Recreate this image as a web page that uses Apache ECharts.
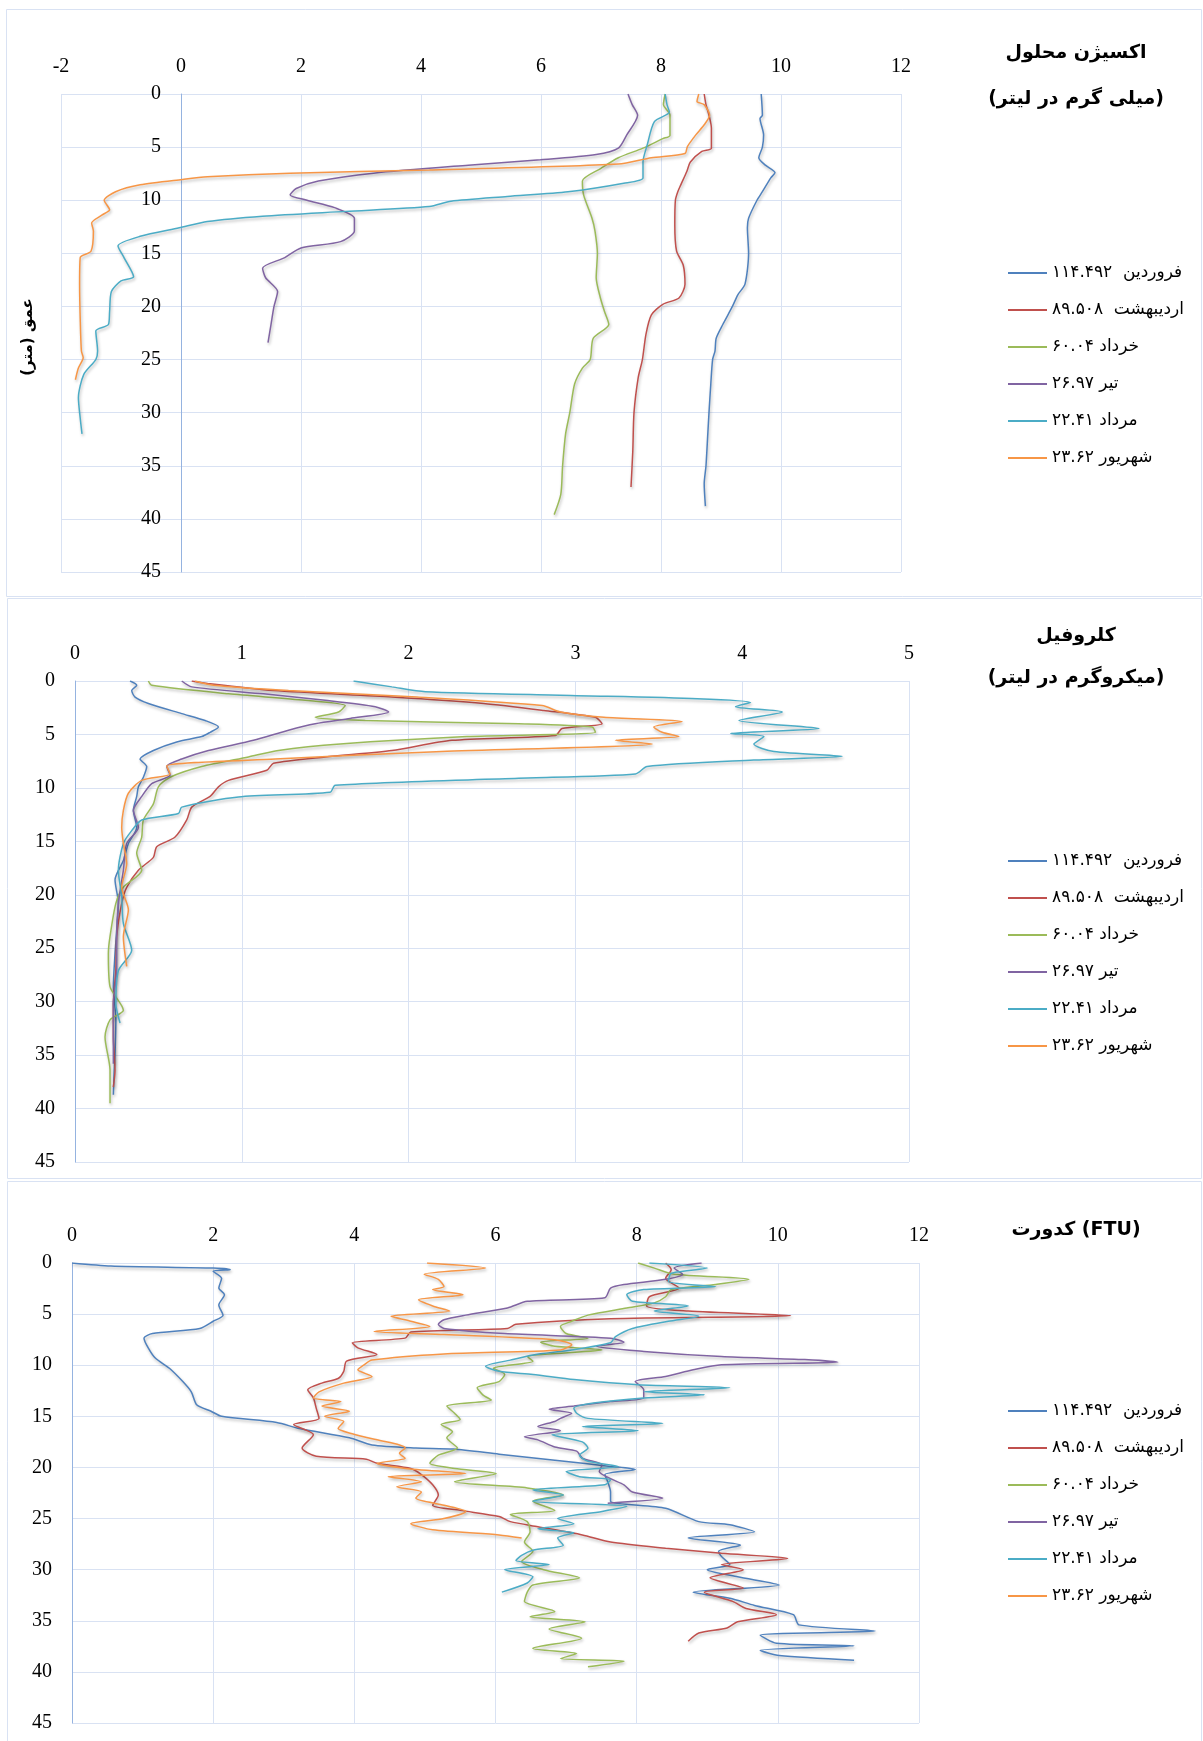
<!DOCTYPE html>
<html><head><meta charset="utf-8">
<script src="https://cdn.jsdelivr.net/npm/echarts@6/dist/echarts.min.js"></script>
<style>html,body{margin:0;padding:0;background:#fff}#c{width:1203px;height:1741px}</style>
</head><body><div id="c"></div><script>
// ---------- names, colours, ticks ----------
const seriesNames = ['فروردین  ۱۱۴.۴۹۲','اردیبهشت  ۸۹.۵۰۸','خرداد ۶۰.۰۴','تیر ۲۶.۹۷','مرداد ۲۲.۴۱','شهریور ۲۳.۶۲'];
const colors = ['#4F81BD','#C0504D','#9BBB59','#8064A2','#4BACC6','#F79646'];
const doTicks = [-2,0,2,4,6,8,10,12];
const chlTicks = [0,1,2,3,4,5];
const turTicks = [0,2,4,6,8,10,12];
const depthTicks = [0,5,10,15,20,25,30,35,40,45];
const titles = [['اکسیژن محلول','(میلی گرم در لیتر)'],['کلروفیل','(میکروگرم در لیتر)'],['کدورت (FTU)']];
const depthTitle = 'عمق (متر)';

// ---------- Dissolved oxygen ----------
const do1Depth = [0,2,2.3,3.85,5,6,6.7,7.4,7.9,9.2,10,11.7,12.6,15,17.9,18.9,20,21.7,23,24.2,25,27.3,30,32,35,36.7,38.8];
const do1Val   = [9.67,9.69,9.65,9.71,9.69,9.63,9.74,9.9,9.83,9.69,9.6,9.46,9.44,9.46,9.4,9.28,9.19,9.03,8.92,8.9,8.86,8.83,8.8,8.78,8.75,8.72,8.74];
const do2Depth = [0,1,2,3.2,5.1,5.4,6.4,7.3,8.55,9.2,10,12.3,14.8,16.1,17.9,19.2,19.8,20.8,22.6,25,26.7,30,33.6,37];
const do2Val   = [8.72,8.75,8.8,8.84,8.84,8.68,8.49,8.43,8.33,8.28,8.24,8.23,8.26,8.37,8.4,8.3,8.03,7.84,7.75,7.69,7.62,7.55,7.53,7.5];
const do3Depth = [0,1,2,3.9,4.2,5.1,6,7,8.2,9.5,11.7,12.9,15,17.3,19.2,20.5,21.7,23,25,25.8,27.3,30,32,35,37.7,39.6];
const do3Val   = [8.07,8.04,8.15,8.15,8.03,7.7,7.29,7.0,6.69,6.71,6.85,6.9,6.94,6.92,6.99,7.06,7.13,6.87,6.82,6.69,6.56,6.48,6.41,6.36,6.33,6.22];
const do4Depth = [0,1,2,3.85,5.1,5.7,6.2,6.7,7.45,8.2,8.9,9.5,10,10.7,11.7,12.9,13.9,14.5,15.4,16.4,17.3,18.6,20,21.7,23.4];
const do4Val   = [7.45,7.52,7.61,7.43,7.29,6.92,5.99,4.79,3.21,2.29,1.92,1.82,2.1,2.56,2.89,2.89,2.66,2.0,1.73,1.36,1.41,1.61,1.55,1.5,1.45];
const do5Depth = [0,1,1.7,2.6,4.8,6.4,7.9,8.4,9.2,9.65,10.1,10.6,11.05,11.5,12,12.6,13.4,14.3,15.4,17.2,17.6,18.6,20.5,21.7,22.3,24.2,25,26.4,28.6,30.5,32];
const do5Val   = [8.07,8.1,8.14,7.89,7.77,7.7,7.7,7.38,6.45,5.44,4.5,4.14,2.75,1.36,0.44,-0.03,-0.68,-1.05,-0.95,-0.79,-1.0,-1.16,-1.19,-1.21,-1.42,-1.39,-1.42,-1.62,-1.71,-1.68,-1.65];
const do6Depth = [0,0.7,1,2,2.9,3.85,4.95,5.6,6.0,6.6,7.15,7.45,7.8,8.05,8.55,9.2,10,10.9,11.4,12.15,12.9,14.8,15.4,17.9,21.1,24.2,24.8,25.8,26.9];
const do6Val   = [8.63,8.6,8.72,8.81,8.72,8.58,8.44,8.4,7.84,7.29,4.14,1.82,0.44,0.02,-0.68,-1.09,-1.28,-1.19,-1.32,-1.49,-1.46,-1.5,-1.68,-1.69,-1.68,-1.66,-1.63,-1.71,-1.76];

// ---------- Chlorophyll ----------
const ch1Depth = [0,0.4,0.9,1.5,2.1,3.05,3.7,4.3,4.8,5.2,5.7,6.5,7.3,8.0,9.0,9.9,10.8,12.1,13.7,15.2,16.8,18.6,20.8,23.3,25.5,28.6,31.7,34.9,36.4,38.7];
const ch1Val   = [0.33,0.37,0.34,0.36,0.44,0.64,0.78,0.86,0.81,0.76,0.61,0.47,0.39,0.43,0.41,0.38,0.37,0.35,0.37,0.32,0.29,0.24,0.26,0.25,0.24,0.23,0.245,0.24,0.235,0.23];
const ch2Depth = [0,0.25,0.9,1.5,2.1,2.75,3.4,4.0,4.45,5.1,5.55,6.5,7.1,7.7,8.35,9.3,9.9,10.8,11.8,13.0,14.6,15.5,16.5,17.7,19.3,20.8,23.9,27,30.2,33.3,36.4,38];
const ch2Val   = [0.70,0.8,1.19,1.9,2.45,2.81,3.12,3.16,2.92,2.88,2.26,1.9,1.5,1.19,1.15,0.92,0.86,0.81,0.70,0.67,0.6,0.49,0.47,0.38,0.31,0.28,0.25,0.245,0.23,0.23,0.24,0.23];
const ch3Depth = [0,0.4,1.2,1.8,2.3,2.9,3.4,3.7,4.0,4.3,4.8,5.2,5.9,6.5,7.1,8.0,9.0,9.9,11.5,13.0,14.6,16.1,17.7,19.3,20.8,23.9,25.5,28.6,30.8,31.7,33.3,36.4,39.5];
const ch3Val   = [0.44,0.46,0.92,1.38,1.62,1.58,1.44,1.74,2.66,3.10,3.12,2.35,1.59,1.22,1.04,0.76,0.57,0.5,0.47,0.41,0.4,0.37,0.4,0.29,0.245,0.21,0.2,0.21,0.29,0.21,0.18,0.21,0.21];
const ch4Depth = [0,0.55,1.2,1.8,2.4,2.9,3.5,4.0,4.6,5.55,6.5,7.3,8.0,8.8,9.6,10.8,12.1,13.7,15.2,17.7,20.8,23.9,27,30.2,33.3,35.8];
const ch4Val   = [0.64,0.7,1.13,1.5,1.8,1.88,1.65,1.44,1.28,1.07,0.8,0.64,0.55,0.57,0.46,0.4,0.35,0.38,0.31,0.29,0.26,0.25,0.25,0.23,0.23,0.23];
const ch5Depth = [0,0.55,1.0,1.35,1.65,2.0,2.4,2.9,3.7,4.45,4.9,5.2,5.9,6.6,7.05,7.4,8.0,8.7,9.1,9.75,10.4,10.85,11.8,12.4,13.0,14.0,15.2,17.7,20.2,22.7,25.2,27.1,30.2,32];
const ch5Val   = [1.67,1.9,2.1,2.97,3.73,4.05,3.96,4.24,3.98,4.46,3.93,4.13,4.07,4.19,4.6,4.07,3.43,3.36,2.66,1.56,1.53,0.98,0.64,0.62,0.4,0.34,0.29,0.26,0.28,0.29,0.34,0.26,0.245,0.27];
const ch6Depth = [0,0.4,0.9,1.5,2.3,2.9,3.4,3.8,4.3,4.8,5.2,5.55,5.9,6.6,7.3,7.95,8.7,9.3,10.5,12.1,13.7,15.2,17.1,19.3,21.4,23.9,26.7];
const ch6Val   = [0.72,0.83,1.28,2.05,2.8,2.91,3.17,3.64,3.47,3.52,3.62,3.24,3.46,2.2,1.2,0.55,0.57,0.4,0.32,0.29,0.28,0.29,0.31,0.28,0.32,0.29,0.31];

// ---------- Turbidity ----------
const tu1Depth = [0,0.3,0.5,0.65,0.8,1.5,2.45,3.1,4.1,5.1,5.7,6.4,6.9,7.35,8.3,9.3,10.3,11.6,12.6,13.9,14.5,15.0,15.6,16.2,17.1,17.8,18.1,18.2,18.7,19.3,19.9,20.2,20.7,21.4,22.4,23.3,24.0,25.3,25.6,26.3,26.9,27.6,28.2,28.7,29.5,30.0,30.7,31.5,32.2,32.8,33.5,34.4,35.4,36.0,36.4,37.2,37.45,37.9,38.4,38.85];
const tu1Val   = [0,0.55,2.0,2.24,2.0,2.12,2.08,2.16,2.08,2.14,2.0,1.81,1.14,1.02,1.08,1.18,1.38,1.57,1.69,1.77,1.97,2.12,2.9,3.22,3.93,4.25,4.87,5.4,6.05,6.84,7.63,7.98,7.55,7.59,7.63,7.63,8.41,8.88,9.32,9.67,8.73,9.47,9.16,9.2,9.32,9.0,9.43,10.02,8.8,9.32,9.67,10.22,10.3,11.38,9.75,9.98,11.08,9.75,10.02,11.08];
const tu2Depth = [0,0.65,1.5,2.45,3.3,4.2,4.7,5.15,5.45,6.0,6.4,6.75,7.35,7.8,8.3,8.95,9.6,10.6,11.3,11.75,12.4,13.2,14.2,15.2,15.8,16.8,18.1,18.9,19.2,19.6,20.1,20.7,21.7,22.7,23.7,24.2,24.8,25.3,25.8,26.6,27.3,27.9,28.4,28.9,29.5,30.0,30.8,31.8,32.2,33.1,33.8,34.4,35.1,35.7,36.2,37.0];
const tu2Val   = [8.41,8.49,8.41,8.6,8.18,8.14,8.73,10.18,7.63,6.29,6.17,4.8,4.72,3.97,4.05,4.32,3.89,3.85,3.77,3.54,3.34,3.42,3.46,3.5,3.14,3.42,3.26,3.46,4.17,4.32,4.8,4.95,5.11,5.19,5.11,5.5,6.05,6.21,6.6,7.23,7.63,8.41,9.2,10.14,9.2,9.51,9.04,9.51,8.96,9.36,9.55,9.98,9.43,9.28,8.88,8.73];
const tu3Depth = [0,0.5,1.1,1.6,2.1,2.6,3.3,3.9,4.4,5.1,5.7,6.2,6.9,7.35,7.75,8.15,8.5,9.15,9.6,10.3,10.9,11.6,12.2,12.9,13.4,14.0,14.7,15.3,15.8,16.5,17.1,18.1,18.8,19.6,20.1,20.6,21.4,22.0,22.7,23.3,24.2,24.6,25.3,26.3,27.3,28.2,29.2,30.0,30.8,31.5,32.2,33.1,34.1,34.6,35.1,35.8,36.7,37.7,38.2,38.7,38.95,39.5];
const tu3Val   = [8.02,8.25,8.53,9.59,9.12,8.49,8.41,8.25,7.86,7.31,7.08,6.92,7.0,7.31,6.64,6.84,7.51,6.45,6.53,5.97,6.13,6.05,5.74,5.82,5.94,5.31,5.42,5.5,5.23,5.39,5.31,5.46,5.19,5.07,5.42,6.01,5.42,6.45,6.96,6.53,6.84,6.21,6.45,6.49,6.41,6.53,6.37,6.68,7.19,6.53,6.45,6.41,6.84,6.49,7.27,6.76,7.22,6.53,7.15,6.92,7.82,7.31];
const tu4Depth = [0,0.5,1.1,1.6,2.1,2.45,3.4,3.75,4.4,5.1,5.55,6.0,6.4,6.9,7.35,7.75,8.15,8.65,9.15,9.45,9.7,9.95,10.45,11.1,11.6,12.4,13.2,13.55,14.0,14.3,14.7,15.2,15.5,16.0,16.4,17.0,17.3,18.0,18.4,19.1,19.75,20.4,21.1,21.7,22.4,23.0,23.5];
const tu4Val   = [8.92,8.53,8.65,8.41,7.82,7.63,7.55,6.45,6.17,5.58,5.27,5.19,5.27,6.13,7.63,7.82,7.43,8.1,9.2,10.38,10.85,9.2,8.8,8.41,7.98,8.1,8.1,7.63,7.11,6.76,7.08,6.92,6.84,6.6,6.92,6.41,6.6,6.84,7.15,7.23,7.51,7.47,7.63,7.82,7.94,8.37,7.59];
const tu5Depth = [0,0.5,1.0,1.8,2.3,2.6,3.1,3.75,4.2,4.7,5.2,5.7,6.4,7.2,7.8,8.5,9.0,9.5,10.1,10.6,10.9,11.4,11.9,12.2,12.6,12.9,13.2,13.7,14.2,14.7,15.2,15.7,16.0,16.4,16.8,17.5,18.1,18.8,19.4,19.9,20.4,20.9,21.2,21.7,22.2,22.7,23.3,23.8,24.3,25.0,25.5,26.0,26.4,26.9,27.6,28.1,28.6,29.1,29.5,30.0,30.7,31.3,32.2];
const tu5Val   = [8.18,9.0,8.49,8.45,9.12,8.1,7.86,7.94,8.73,8.25,8.88,8.45,7.94,7.7,7.63,7.08,6.53,6.21,5.86,6.05,6.53,7.11,8.02,9.32,8.1,8.96,8.1,7.39,7.11,7.15,7.31,8.37,7.23,8.02,6.8,7.23,7.31,7.19,7.31,7.74,7.0,7.19,7.63,7.55,6.53,6.96,6.53,7.86,7.51,6.88,7.11,6.6,7.11,6.88,6.96,6.53,6.37,6.29,6.76,6.13,6.53,6.45,6.09];
const tu6Depth = [0,0.5,1.1,1.6,2.3,2.6,3.1,3.6,4.2,4.7,5.2,5.7,6.2,6.7,7.0,7.5,8.0,8.5,8.9,9.5,10.0,10.45,11.1,11.75,12.6,13.2,13.55,14.0,14.5,15.0,15.5,16.2,16.7,17.3,17.8,18.1,18.6,19.1,19.6,20.1,20.6,20.9,21.4,21.9,22.4,23.0,23.7,24.3,25.0,25.5,26.1,26.6,26.9];
const tu6Val   = [5.03,5.86,4.99,5.19,5.27,5.11,5.54,4.91,5.11,5.35,4.52,4.8,5.07,4.28,5.27,6.84,7.08,6.92,5.27,4.25,4.13,4.05,4.25,3.85,3.5,3.42,3.81,3.54,3.93,3.58,3.85,3.77,3.97,4.32,4.64,4.72,4.64,4.72,4.32,4.72,5.58,4.48,4.95,4.6,4.95,4.87,5.27,5.58,5.27,4.8,5.11,6.05,6.37];

// ---------- build ----------
const panels = [
  {depths:[do1Depth,do2Depth,do3Depth,do4Depth,do5Depth,do6Depth], vals:[do1Val,do2Val,do3Val,do4Val,do5Val,do6Val], ticks:doTicks,
   grid:{left:61, top:94, width:840, height:478}, legendTop:258, titleY:[53,99]},
  {depths:[ch1Depth,ch2Depth,ch3Depth,ch4Depth,ch5Depth,ch6Depth], vals:[ch1Val,ch2Val,ch3Val,ch4Val,ch5Val,ch6Val], ticks:chlTicks,
   grid:{left:75, top:681, width:834, height:481}, legendTop:846, titleY:[636,678]},
  {depths:[tu1Depth,tu2Depth,tu3Depth,tu4Depth,tu5Depth,tu6Depth], vals:[tu1Val,tu2Val,tu3Val,tu4Val,tu5Val,tu6Val], ticks:turTicks,
   grid:{left:72, top:1263, width:847, height:460}, legendTop:1396, titleY:[1230]}
];
const gridColor = '#d9e2f3';
const labelStyle = {fontFamily:'"Liberation Serif", "Times New Roman", serif', fontSize:20, color:'#000'};
const grids=[], xAxes=[], yAxes=[], series=[], legends=[], graphics=[];
panels.forEach((p, pi) => {
  grids.push(Object.assign({containLabel:false}, p.grid));
  const t = p.ticks, tMin = t[0], tMax = t[t.length-1];
  // vertical axis sits at value 0 of the horizontal axis
  const yOffset = -(0 - tMin) / (tMax - tMin) * p.grid.width;
  xAxes.push({gridIndex:pi, type:'value', position:'top', min:tMin, max:tMax, interval:t[1]-t[0],
    axisLine:{show:false, onZero:false}, axisTick:{show:false},
    axisLabel:Object.assign({margin:17}, labelStyle),
    splitLine:{show:true, lineStyle:{color:gridColor, width:1}}});
  yAxes.push({gridIndex:pi, type:'value', inverse:true, position:'left', offset:yOffset,
    min:depthTicks[0], max:depthTicks[depthTicks.length-1], interval:depthTicks[1]-depthTicks[0],
    axisLine:{show:true, onZero:false, lineStyle:{color:'#95b3e0', width:1}}, axisTick:{show:false},
    axisLabel:Object.assign({margin:20}, labelStyle),
    splitLine:{show:true, lineStyle:{color:gridColor, width:1}}});
  seriesNames.forEach((n, si) => {
    series.push({name:n, type:'line', xAxisIndex:pi, yAxisIndex:pi, symbol:'none', smooth:0.25,
      color:colors[si],
      lineStyle:{width:1.5, color:colors[si], shadowColor:'rgba(0,0,0,0.28)', shadowBlur:3, shadowOffsetX:1, shadowOffsetY:2},
      data:p.vals[si].map((v,i)=>[v, p.depths[si][i]])});
  });
  legends.push({orient:'vertical', left:1003, top:p.legendTop, itemWidth:39, itemHeight:2, itemGap:17,
    icon:'rect', data:seriesNames, selectedMode:false,
    textStyle:{fontFamily:'"DejaVu Sans", sans-serif', fontSize:17, color:'#000', lineHeight:20}});
  titles[pi].forEach((tx, k) => {
    graphics.push({type:'text', x:1076, y:p.titleY[k], style:{text:tx, textAlign:'center', textVerticalAlign:'middle',
      font:'bold 19px "DejaVu Sans", sans-serif', fill:'#000'}});
  });
});
graphics.push({type:'text', x:28, y:337, rotation:Math.PI/2, style:{text:depthTitle, textAlign:'center', textVerticalAlign:'middle',
  font:'bold 15px "DejaVu Sans", sans-serif', fill:'#000'}});
[[6.5,9.5,1195,587],[7.5,598.5,1194,580],[7.5,1181.5,1194,580]].forEach(r => {
  graphics.push({type:'rect', z:-1, shape:{x:r[0], y:r[1], width:r[2], height:r[3]}, style:{fill:'none', stroke:gridColor, lineWidth:1}});
});

const chart = echarts.init(document.getElementById('c'), null, {renderer:'canvas'});
chart.setOption({animation:false, backgroundColor:'#fff', grid:grids, xAxis:xAxes, yAxis:yAxes, series:series, legend:legends, graphic:graphics});
</script></body></html>
